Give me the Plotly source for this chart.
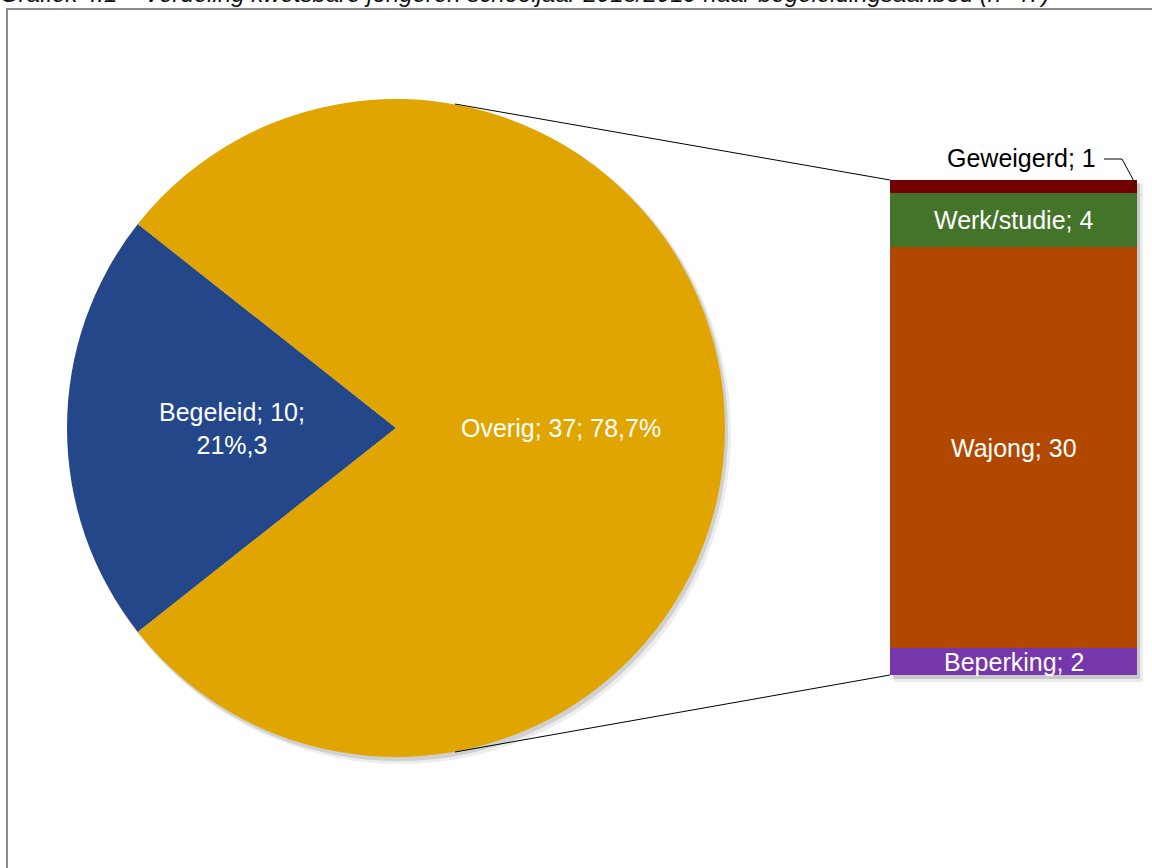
import math

import plotly.graph_objects as go

titel = "Grafiek 4.1 – Verdeling kwetsbare jongeren schooljaar 2018/2019 naar begeleidingsaanbod (n=47)"

# pie: begeleid vs overig
pie_labels = ["Begeleid", "Overig"]
pie_values = [10, 37]
pie_texts = ["Begeleid; 10;<br>21%,3", "Overig; 37; 78,7%"]
pie_colors = ["#24478A", "#E0A500"]

# uitsplitsing van "Overig", van onder naar boven gestapeld
bar_labels = ["Beperking", "Wajong", "Werk/studie", "Geweigerd"]
bar_values = [2, 30, 4, 1]
bar_colors = ["#7636AC", "#B24800", "#44742A", "#720000"]

W, H = 1152, 868
font_family = "Arial, Liberation Sans, sans-serif"
label_size = 25


def px_x(x):
    return x / W


def px_y(y):
    return 1 - y / H


# geometrie (pixels)
cx, cy, r = 396, 428, 329
bar_left, bar_right, bar_top, bar_bottom = 890, 1137, 180, 675

total_pie = sum(pie_values)
rotation = 270 - 360 * pie_values[0] / total_pie / 2

fig = go.Figure()

fig.add_trace(go.Pie(
    labels=pie_labels,
    values=pie_values,
    sort=False,
    direction="clockwise",
    rotation=rotation,
    marker=dict(colors=pie_colors, line=dict(width=0)),
    textinfo="none",
    hoverinfo="label+value+percent",
    showlegend=False,
    domain=dict(x=[px_x(cx - r), px_x(cx + r)], y=[px_y(cy + r), px_y(cy - r)]),
))

for lab, val, col in zip(bar_labels, bar_values, bar_colors):
    fig.add_trace(go.Bar(
        x=[0], y=[val], name=lab,
        marker=dict(color=col, line=dict(width=0)),
        width=1, showlegend=False,
        hovertemplate=lab + ": %{y}<extra></extra>",
    ))

annotations = []

# labels in de taartpunten
angle = rotation
for txt, val in zip(pie_texts, pie_values):
    mid = math.radians(angle + 360 * val / total_pie / 2)
    angle += 360 * val / total_pie
    annotations.append(dict(
        x=px_x(cx + 0.5 * r * math.sin(mid)), y=px_y(cy - 0.5 * r * math.cos(mid)),
        xref="paper", yref="paper", xanchor="center", yanchor="middle",
        text=txt, showarrow=False,
        font=dict(family=font_family, size=label_size, color="white"),
    ))

# labels in de staaf
cum = 0
for lab, val in zip(bar_labels, bar_values):
    mid = cum + val / 2
    cum += val
    if lab == "Geweigerd":
        continue
    annotations.append(dict(
        x=0, y=mid, xref="x", yref="y", xanchor="center", yanchor="middle",
        text=f"{lab}; {val}", showarrow=False,
        font=dict(family=font_family, size=label_size, color="white"),
    ))

annotations.append(dict(
    x=px_x(1098), y=px_y(158), xref="paper", yref="paper", xanchor="right", yanchor="middle",
    text=f"{bar_labels[-1]}; {bar_values[-1]}", showarrow=False,
    font=dict(family=font_family, size=label_size, color="black"),
))

annotations.append(dict(
    x=px_x(-2), y=px_y(9.5), xref="paper", yref="paper", xanchor="left", yanchor="bottom",
    text=titel, showarrow=False,
    font=dict(family=font_family, size=24, color="#111111", style="italic"),
))

shapes = [
    # schaduw staaf
    dict(type="rect", xref="paper", yref="paper", layer="below",
         x0=px_x(bar_left + 4), x1=px_x(bar_right + 6), y0=px_y(bar_bottom + 7), y1=px_y(bar_top + 4),
         fillcolor="rgba(0,0,0,0.08)", line=dict(width=0)),
    dict(type="rect", xref="paper", yref="paper", layer="below",
         x0=px_x(bar_left + 3), x1=px_x(bar_right + 3), y0=px_y(bar_bottom + 4), y1=px_y(bar_top + 3),
         fillcolor="rgba(0,0,0,0.15)", line=dict(width=0)),
    # schaduw taart
    dict(type="circle", xref="paper", yref="paper", layer="below",
         x0=px_x(cx - r + 3), x1=px_x(cx + r + 6), y0=px_y(cy + r + 7), y1=px_y(cy - r + 3),
         fillcolor="rgba(0,0,0,0.07)", line=dict(width=0)),
    dict(type="circle", xref="paper", yref="paper", layer="below",
         x0=px_x(cx - r + 2), x1=px_x(cx + r + 3), y0=px_y(cy + r + 4), y1=px_y(cy - r + 2),
         fillcolor="rgba(0,0,0,0.12)", line=dict(width=0)),
    # verbindingslijnen
    dict(type="line", xref="paper", yref="paper",
         x0=px_x(455), y0=px_y(104), x1=px_x(bar_left), y1=px_y(bar_top),
         line=dict(color="black", width=1)),
    dict(type="line", xref="paper", yref="paper",
         x0=px_x(455), y0=px_y(752), x1=px_x(bar_left), y1=px_y(bar_bottom),
         line=dict(color="black", width=1)),
    # aanwijslijn Geweigerd
    dict(type="path", xref="paper", yref="paper",
         path=f"M {px_x(1104)} {px_y(159)} L {px_x(1122)} {px_y(159)} L {px_x(1136)} {px_y(185)}",
         line=dict(color="black", width=1)),
    # kader
    dict(type="rect", xref="paper", yref="paper",
         x0=px_x(7), x1=1.02, y0=-0.02, y1=px_y(9),
         line=dict(color="#8C8C8C", width=2)),
]

fig.update_layout(
    width=W, height=H,
    margin=dict(l=0, r=0, t=0, b=0),
    paper_bgcolor="white", plot_bgcolor="rgba(0,0,0,0)",
    barmode="stack", bargap=0,
    xaxis=dict(domain=[px_x(bar_left), px_x(bar_right)], range=[-0.5, 0.5], visible=False, fixedrange=True),
    yaxis=dict(domain=[px_y(bar_bottom), px_y(bar_top)], range=[0, sum(bar_values)], visible=False, fixedrange=True),
    annotations=annotations,
    shapes=shapes,
    font=dict(family=font_family),
)

# pagina zonder body-marge, zodat de figuur precies in het venster valt
fig.write_html("out.html", config={"displayModeBar": False},
               post_script="document.body.style.margin='0';")
